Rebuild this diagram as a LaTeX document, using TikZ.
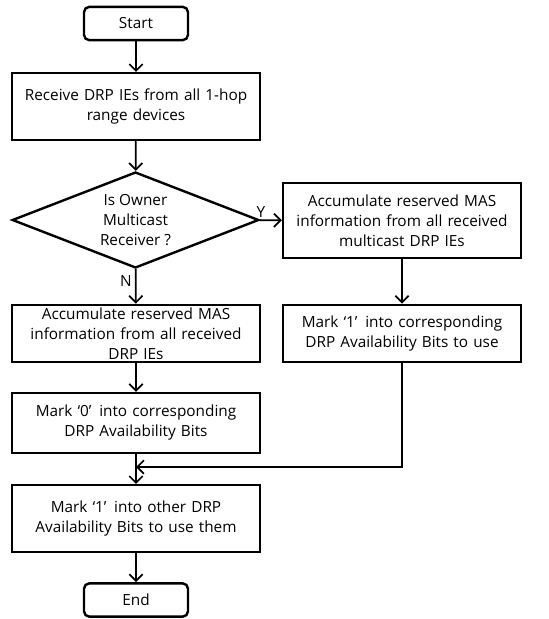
\documentclass[tikz,border=0pt]{standalone}
\usepackage{fontspec}
\setmainfont{Open Sans}
\usetikzlibrary{arrows.meta,positioning,shapes.geometric}
\tikzset{
  flowbox/.style={rectangle,draw=black,line width=1.8pt,align=center,inner sep=0pt,
    minimum width=186pt,minimum height=50pt,text width=184pt,font=\fontsize{11.5}{15}\selectfont},
  termbox/.style={rectangle,rounded corners=4pt,draw=black,line width=1.8pt,
    minimum width=78pt,minimum height=25pt,font=\fontsize{11.5}{15}\selectfont},
  decide/.style={diamond,draw=black,line width=1.8pt,align=center,aspect=2.56,inner sep=0pt,
    minimum width=185pt,minimum height=72pt,font=\fontsize{11.5}{15}\selectfont},
  lbl/.style={font=\fontsize{11.5}{15}\selectfont},
}
\begin{document}
\begin{tikzpicture}[x=0.75pt,y=-0.75pt]
\useasboundingbox (0,0) rectangle (549,619);
% \draw[help lines,step=50] (0,0) grid (549,619);
\node (start) [termbox] at (136,23.5) {Start};
\node (recv) [flowbox] at (136,106.5) {Receive DRP IEs from all 1-hop\\range devices};
\node (owner) [decide] at (135.5,220) {Is Owner\\Multicast\\Receiver ?};
\node (accMc) [flowbox,minimum width=178.5pt,minimum height=56pt,text width=178pt] at (402,220.5) {Accumulate reserved MAS\\information from all received\\multicast DRP IEs};
\node (accAll) [flowbox,minimum height=43pt] at (136,333.5) {Accumulate reserved MAS\\information from all received\\DRP IEs};
\node (markCorr) [flowbox,minimum width=178.5pt,minimum height=43pt,text width=178pt] at (402,333.5) {Mark `1'\, into corresponding\\DRP Availability Bits to use};
\node (markZero) [flowbox,minimum height=45pt] at (136,423) {Mark `0'\, into corresponding\\DRP Availability Bits};
\node (markOther) [flowbox] at (136,518.5) {Mark `1'\, into other DRP\\Availability Bits to use them};
\node (stop) [termbox] at (136,600) {End};
\coordinate (merge) at (136,467);
%
\path[->,>={Straight Barb[length=5pt,width=10pt]},line width=1.3pt]
(start) edge (recv)
(recv) edge (owner)
(owner) edge node[lbl,above left=-2pt and 0pt] {Y} (accMc)
(owner) edge node[lbl,left=-1pt,pos=0.35] {N} (accAll)
(accMc) edge (markCorr)
(accAll) edge (markZero)
(markZero) edge (markOther)
(markOther) edge (stop)
;
\draw[->,>={Straight Barb[length=5pt,width=10pt]},line width=1.3pt] (markCorr.south) |- (merge);
\end{tikzpicture}
\end{document}
